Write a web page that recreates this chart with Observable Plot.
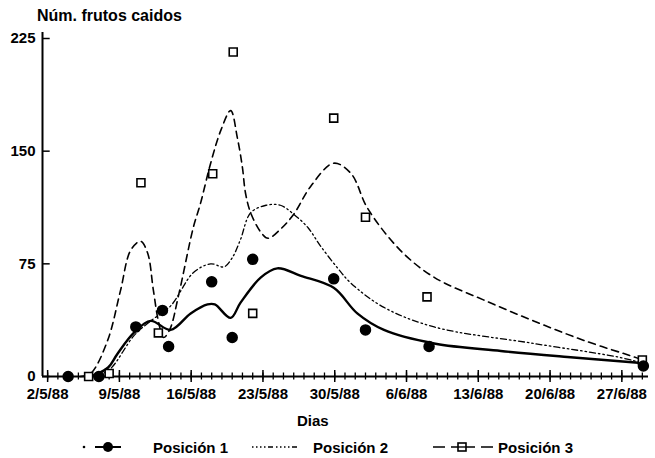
<!DOCTYPE html>
<html><head><meta charset="utf-8">
<script src="https://cdn.jsdelivr.net/npm/d3@7"></script>
<script src="https://cdn.jsdelivr.net/npm/@observablehq/plot@0.6"></script>
<style>
html,body{margin:0;padding:0;background:#fff;}
body{width:655px;height:458px;position:relative;overflow:hidden;font-family:"Liberation Sans",Arial,sans-serif;font-weight:bold;color:#000;}
#title{position:absolute;left:37px;top:6px;font-size:16px;line-height:20px;white-space:nowrap;}
#chart{position:absolute;left:0;top:26px;}
#xlabel{position:absolute;left:297px;top:411px;font-size:15px;line-height:20px;}
#legend{position:absolute;left:0;top:436px;}
</style></head>
<body>
<div id="title">Núm. frutos caidos</div>
<div id="chart"></div>
<div id="xlabel">Dias</div>
<div id="legend"></div>
<script>
// x values are days counted from 2/5/88
const tickDays = [0, 7, 14, 21, 28, 35, 42, 49, 56];
const tickLabels = ["2/5/88","9/5/88","16/5/88","23/5/88","30/5/88","6/6/88","13/6/88","20/6/88","27/6/88"];
const yTicks = [0, 75, 150, 225];
const seriesNames = ["Posición 1", "Posición 2", "Posición 3"];

// observed points
const p1Day = [2, 5, 8.6, 11.2, 11.8, 16, 18, 20, 27.9, 31, 37.2, 58.1];
const p1Val = [0, 0, 33, 44, 20, 63, 26, 78, 65, 31, 20, 7];
const p3Day = [4, 6, 9.1, 10.8, 16.1, 18.1, 20, 27.9, 31, 37, 58];
const p3Val = [0, 2, 129, 29, 135, 216, 42, 172, 106, 53, 11];

// fitted curves
const c1Day = [4.2, 5.9, 6.8, 8.4, 10.05, 12, 13.95, 15.6, 16.3, 17.85, 18.8, 20.8, 22.4, 24.7, 27.9, 30.2, 32.8, 37.7, 44.2, 50.7, 57.9];
const c1Val = [0, 6, 15, 29, 37, 31, 42, 48, 48, 39, 49, 66, 72, 67, 59, 42, 31, 22, 17, 13, 9];
const c2Day = [4.7, 6.1, 8.4, 10.05, 12, 14.2, 15.9, 17.2, 18, 18.8, 19.8, 21.3, 22.7, 24, 25.4, 26.6, 28.3, 29.6, 32.8, 37.7, 47.4, 55.6, 58];
const c2Val = [0, 5, 27, 37, 47, 69, 75, 73, 79, 91, 109, 114, 114, 108, 99, 87, 72, 62, 46, 33, 22, 13, 9];
const c3Day = [3.2, 4.2, 5.85, 7.1, 8.1, 9.07, 9.76, 10.3, 10.8, 11.3, 11.9, 12.8, 14.2, 14.9, 15.9, 16.9, 17.85, 18.5, 19, 19.3, 19.8, 20.8, 21.5, 22.7, 24, 25.7, 27.9, 29.6, 31.2, 34.4, 37.7, 42.5, 47.4, 52.3, 57.2, 58];
const c3Val = [0, 2, 24, 57, 84, 90, 82, 58, 37, 26, 31, 55, 99, 115, 142, 164, 177, 159, 139, 122, 109, 96, 92, 98, 108, 127, 142, 135, 112, 84, 66, 51, 37, 24, 13, 11];

const xMin = -0.5, xMax = 58.6;
const pxPerUnit = 338 / 225;
const u = px => px / pxPerUnit;
const allDays = d3.range(0, 59);

const pts1 = p1Day.map((d, i) => ({d, v: p1Val[i]}));
const pts3 = p3Day.map((d, i) => ({d, v: p3Val[i]}));
const crv1 = c1Day.map((d, i) => ({d, v: c1Val[i]}));
const crv2 = c2Day.map((d, i) => ({d, v: c2Val[i]}));
const crv3 = c3Day.map((d, i) => ({d, v: c3Val[i]}));

const chart = Plot.plot({
  width: 655,
  height: 410,
  marginLeft: 42,
  marginRight: 7,
  marginTop: 12,
  marginBottom: 60,
  style: {fontFamily: '"Liberation Sans", Arial, sans-serif', fontWeight: "bold", background: "#fff", color: "#000", overflow: "visible"},
  x: {domain: [xMin, xMax], axis: null, label: null},
  y: {domain: [0, 225], axis: null, label: null},
  marks: [
    Plot.axisX({ticks: tickDays, tickFormat: (d) => tickLabels[tickDays.indexOf(d)], tickSize: 0, tickPadding: 12, fontSize: 15, label: null}),
    Plot.axisY({ticks: yTicks, tickSize: 0, tickPadding: 7, fontSize: 15, label: null}),
    // axis lines
    Plot.ruleX([xMin], {y1: 0, y2: 229, stroke: "#000", strokeWidth: 2}),
    Plot.ruleY([0], {x1: xMin, x2: xMax, stroke: "#000", strokeWidth: 2}),
    // day ticks crossing the x axis
    Plot.ruleX(allDays, {x: d => d, y1: -u(3.5), y2: u(3.5), stroke: "#000", strokeWidth: 1.3}),
    Plot.ruleX(tickDays, {x: d => d, y1: -u(6), y2: u(6), stroke: "#000", strokeWidth: 1.5}),
    // inward y ticks
    Plot.ruleY(yTicks, {y: d => d, x1: xMin, x2: xMin + 0.75, stroke: "#000", strokeWidth: 1.5}),
    // curves
    Plot.line(crv3, {x: "d", y: "v", curve: "catmull-rom", stroke: "#000", strokeWidth: 1.6, strokeDasharray: "7,5"}),
    Plot.line(crv2, {x: "d", y: "v", curve: "catmull-rom", stroke: "#000", strokeWidth: 1.3, strokeDasharray: "6,3,1.5,3,1.5,3"}),
    Plot.line(crv1, {x: "d", y: "v", curve: "catmull-rom", stroke: "#000", strokeWidth: 2.4}),
    // points
    Plot.dot(pts3, {x: "d", y: "v", symbol: "square", r: 4.5, fill: "#fff", stroke: "#000", strokeWidth: 1.6}),
    Plot.dot(pts1, {x: "d", y: "v", r: 5, fill: "#000", stroke: "#000"})
  ]
});
document.getElementById("chart").appendChild(chart);

// legend
const lg = d3.select("#legend").append("svg").attr("width", 655).attr("height", 22);
const cy = 11;
const ff = '"Liberation Sans", Arial, sans-serif';
// Posicion 1
lg.append("circle").attr("cx", 84).attr("cy", cy).attr("r", 1.3).attr("fill", "#000");
lg.append("line").attr("x1", 95).attr("x2", 121).attr("y1", cy).attr("y2", cy).attr("stroke", "#000").attr("stroke-width", 2);
lg.append("circle").attr("cx", 108).attr("cy", cy).attr("r", 5).attr("fill", "#000");
lg.append("text").attr("x", 153).attr("y", cy + 5.5).attr("font-size", 15).attr("font-weight", "bold").attr("font-family", ff).text(seriesNames[0]);
// Posicion 2
lg.append("line").attr("x1", 252).attr("x2", 300).attr("y1", cy).attr("y2", cy).attr("stroke", "#000").attr("stroke-width", 1.3).attr("stroke-dasharray", "1.5,2.5,1.5,2.5,1.5,2.5,1.5,2.5,5,3");
lg.append("text").attr("x", 313).attr("y", cy + 5.5).attr("font-size", 15).attr("font-weight", "bold").attr("font-family", ff).text(seriesNames[1]);
// Posicion 3
lg.append("line").attr("x1", 433).attr("x2", 493).attr("y1", cy).attr("y2", cy).attr("stroke", "#000").attr("stroke-width", 1.6).attr("stroke-dasharray", "12,6,24,6,12");
lg.append("rect").attr("x", 458).attr("y", cy - 4).attr("width", 8).attr("height", 8).attr("fill", "#fff").attr("stroke", "#000").attr("stroke-width", 1.6);
lg.append("line").attr("x1", 458).attr("x2", 466).attr("y1", cy).attr("y2", cy).attr("stroke", "#000").attr("stroke-width", 1.4);
lg.append("text").attr("x", 498).attr("y", cy + 5.5).attr("font-size", 15).attr("font-weight", "bold").attr("font-family", ff).text(seriesNames[2]);
</script>
</body></html>
